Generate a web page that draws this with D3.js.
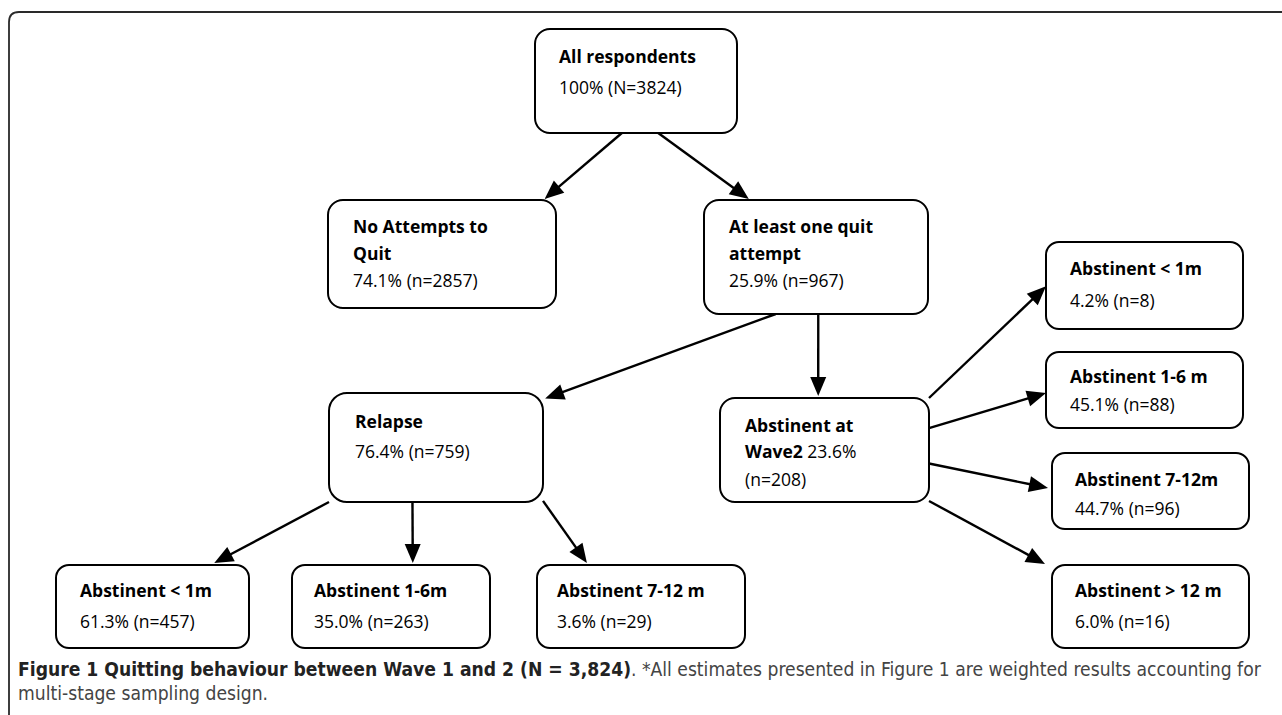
<!DOCTYPE html>
<html>
<head>
<meta charset="utf-8">
<script src="https://cdn.jsdelivr.net/npm/d3@7"></script>
<style>
html, body { margin: 0; padding: 0; background: #fff; }
svg { display: block; }
</style>
</head>
<body>
<div id="chart"></div>
<script>
// node contents
var nodeTitles = [
	["All respondents"],
	["No Attempts to", "Quit"],
	["At least one quit", "attempt"],
	["Relapse"],
	["Abstinent at", "Wave2"],
	["Abstinent < 1m"],
	["Abstinent 1-6 m"],
	["Abstinent 7-12m"],
	["Abstinent > 12 m"],
	["Abstinent < 1m"],
	["Abstinent 1-6m"],
	["Abstinent 7-12 m"]
];
var nodePct = [100, 74.1, 25.9, 76.4, 23.6, 4.2, 45.1, 44.7, 6.0, 61.3, 35.0, 3.6];
var nodeN = [3824, 2857, 967, 759, 208, 8, 88, 96, 16, 457, 263, 29];
var links = [[0, 1], [0, 2], [2, 3], [2, 4], [3, 9], [3, 10], [3, 11], [4, 5], [4, 6], [4, 7], [4, 8]];

var caption = {
	bold: "Figure 1 Quitting behaviour between Wave 1 and 2 (N = 3,824)",
	rest: ". *All estimates presented in Figure 1 are weighted results accounting for",
	line2: "multi-stage sampling design."
};

// layout of the boxes: x0, y0, x1, y1, corner radius, text x, text baselines
var boxes = [
	{x0: 535, y0: 29, x1: 737, y1: 133, r: 15, tx: 559, lines: [63, 94]},
	{x0: 328, y0: 200, x1: 556, y1: 308, r: 15, tx: 353, lines: [233, 260, 287]},
	{x0: 704, y0: 200, x1: 928, y1: 314, r: 15, tx: 729, lines: [233, 260, 287]},
	{x0: 329, y0: 393, x1: 543, y1: 502, r: 18, tx: 355, lines: [428, 458]},
	{x0: 720, y0: 398, x1: 929, y1: 502, r: 15, tx: 745, lines: [432, 458, 486], inline: true},
	{x0: 1046, y0: 242, x1: 1243, y1: 329, r: 13, tx: 1070, lines: [275, 307]},
	{x0: 1046, y0: 352, x1: 1243, y1: 428, r: 13, tx: 1070, lines: [383, 411]},
	{x0: 1052, y0: 453, x1: 1249, y1: 529, r: 13, tx: 1075, lines: [486, 515]},
	{x0: 1052, y0: 565, x1: 1249, y1: 648, r: 13, tx: 1075, lines: [597, 628]},
	{x0: 56, y0: 565, x1: 249, y1: 648, r: 13, tx: 80, lines: [597, 628]},
	{x0: 292, y0: 565, x1: 490, y1: 648, r: 13, tx: 314, lines: [597, 628]},
	{x0: 537, y0: 565, x1: 745, y1: 648, r: 13, tx: 557, lines: [597, 628]}
];
// arrow anchors as fractions of source / target box, plus a gap before the tip
var anchors = [
	{s: [0.43, 1], t: [0.95, 0], gap: [0, -1]},
	{s: [0.61, 1], t: [0.20, 0], gap: [0, -1]},
	{s: [0.32, 1], t: [1.01, 0.05], gap: [0, 0]},
	{s: [0.51, 1], t: [0.47, 0], gap: [0, -2]},
	{s: [0.0, 1], t: [0.82, 0], gap: [0, -2]},
	{s: [0.39, 1], t: [0.61, 0], gap: [0, -2]},
	{s: [1.0, 0.99], t: [0.24, 0], gap: [0, -2]},
	{s: [1.0, 0.0], t: [0, 0.51], gap: [0, 0]},
	{s: [1.0, 0.29], t: [0, 0.54], gap: [0, 0]},
	{s: [1.0, 0.63], t: [0, 0.46], gap: [-4, 0]},
	{s: [1.0, 0.99], t: [0, 0], gap: [-7, -1]}
];

var width = 1282, height = 715;
var fontFamily = "'Open Sans', Lato, sans-serif";
var fontSize = 17.5;
var fmt = d3.format(".1f");

var svg = d3.select("#chart").append("svg")
	.attr("width", width)
	.attr("height", height);

// outer frame (top + left edge with rounded corner)
svg.append("path")
	.attr("d", "M9,715 L9,22 Q9,12 19,12 L1282,12")
	.style("fill", "none")
	.style("stroke", "#2a2a2a")
	.style("stroke-width", 1.8);

function pctText(i) {
	return (i === 0 ? "100%" : fmt(nodePct[i]) + "%") + " (" + (i === 0 ? "N" : "n") + "=" + nodeN[i] + ")";
}

function point(b, f) {
	return [b.x0 + f[0] * (b.x1 - b.x0), b.y0 + f[1] * (b.y1 - b.y0)];
}

// arrows
var arrowLen = 19, arrowHalf = 8;
var arrows = svg.append("g").selectAll("g")
		.data(links)
	.enter().append("g");

arrows.each(function(d, i) {
	var a = anchors[i];
	var p0 = point(boxes[d[0]], a.s);
	var p1 = point(boxes[d[1]], a.t);
	p1 = [p1[0] + a.gap[0], p1[1] + a.gap[1]];
	var dx = p1[0] - p0[0], dy = p1[1] - p0[1];
	var len = Math.sqrt(dx * dx + dy * dy);
	var ux = dx / len, uy = dy / len;
	var bx = p1[0] - ux * arrowLen, by = p1[1] - uy * arrowLen;
	var g = d3.select(this);
	g.append("line")
		.attr("x1", p0[0]).attr("y1", p0[1])
		.attr("x2", bx + ux * 2).attr("y2", by + uy * 2)
		.style("stroke", "#000")
		.style("stroke-width", 2.4);
	g.append("path")
		.attr("d", "M" + p1[0] + "," + p1[1] +
			"L" + (bx - uy * arrowHalf) + "," + (by + ux * arrowHalf) +
			"L" + (bx + uy * arrowHalf) + "," + (by - ux * arrowHalf) + "Z")
		.style("fill", "#000");
});

// nodes
var node = svg.append("g").selectAll(".node")
		.data(nodeTitles)
	.enter().append("g")
		.attr("class", "node");

node.append("rect")
	.attr("x", function(d, i) { return boxes[i].x0; })
	.attr("y", function(d, i) { return boxes[i].y0; })
	.attr("width", function(d, i) { return boxes[i].x1 - boxes[i].x0; })
	.attr("height", function(d, i) { return boxes[i].y1 - boxes[i].y0; })
	.attr("rx", function(d, i) { return boxes[i].r; })
	.style("fill", "#fff")
	.style("stroke", "#000")
	.style("stroke-width", 2);

node.each(function(titles, i) {
	var b = boxes[i];
	var g = d3.select(this);
	titles.forEach(function(t, k) {
		var txt = g.append("text")
			.attr("x", b.tx)
			.attr("y", b.lines[k])
			.style("font-family", fontFamily)
			.style("font-size", fontSize + "px")
			.style("fill", "#000");
		txt.append("tspan").style("font-weight", "bold").text(t);
		if (b.inline && k === titles.length - 1) {
			txt.append("tspan").text(" " + fmt(nodePct[i]) + "%");
		}
	});
	var last = b.inline ? "(n=" + nodeN[i] + ")" : pctText(i);
	g.append("text")
		.attr("x", b.tx)
		.attr("y", b.lines[b.lines.length - 1])
		.style("font-family", fontFamily)
		.style("font-size", fontSize + "px")
		.style("fill", "#000")
		.text(last);
});

// caption
var cap = svg.append("g")
	.style("font-family", "'Liberation Sans Narrow', 'DejaVu Sans Condensed', sans-serif")
	.style("font-size", "15px");
var line1 = cap.append("text").attr("x", 18).attr("y", 676);
line1.append("tspan").style("font-weight", "bold").style("fill", "#222").text(caption.bold);
line1.append("tspan").style("fill", "#444").text(caption.rest);
var line2 = cap.append("text").attr("x", 18).attr("y", 700)
	.style("fill", "#444").text(caption.line2);

// fit the first caption line to the width of the figure
var w1 = line1.node().getComputedTextLength();
var capSize = 15 * (1244 / w1);
cap.style("font-size", capSize + "px");
</script>
</body>
</html>
